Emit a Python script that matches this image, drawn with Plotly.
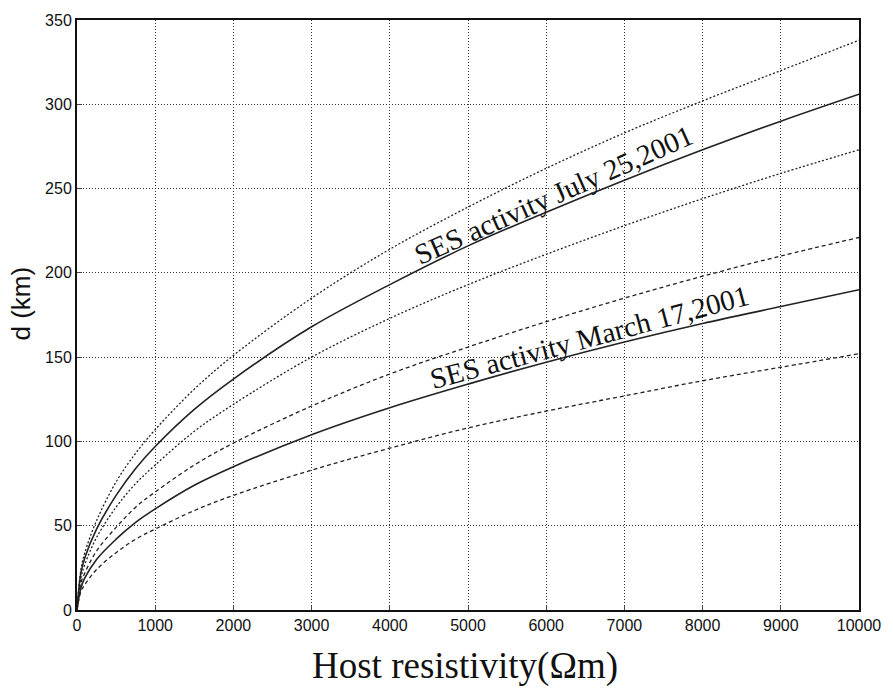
import plotly.graph_objects as go

# Host resistivity (Ohm m) sample positions
rho = [0, 50, 100, 250, 500, 750, 1000, 1500, 2000, 3000, 4000, 5000, 6000, 7000, 8000, 9000, 10000]

# July 25, 2001 SES activity: upper bound (dotted), central (solid), lower bound (dotted)
july_upper = [0, 24, 34, 53, 76, 93, 107, 131, 151, 185, 214, 239, 262, 283, 302, 320, 338]
july_mid   = [0, 22, 31, 48, 68, 84, 97, 119, 137, 168, 193, 216, 236, 255, 273, 290, 306]
july_lower = [0, 19, 27, 43, 61, 75, 86, 106, 122, 150, 173, 193, 211, 228, 244, 259, 273]

# March 17, 2001 SES activity: upper bound (dashed), central (solid), lower bound (dashed)
march_upper = [0, 16, 22, 35, 49, 61, 70, 86, 99, 121, 140, 156, 171, 185, 198, 210, 221]
march_mid   = [0, 13, 19, 30, 42, 52, 60, 74, 85, 104, 120, 134, 147, 159, 170, 180, 190]
march_lower = [0, 11, 15, 24, 34, 42, 48, 59, 68, 83, 96, 108, 118, 127, 136, 144, 152]

x_ticks = list(range(0, 10001, 1000))
x_tick_text = [str(v) for v in x_ticks]
y_ticks = list(range(0, 351, 50))

fig = go.Figure()
series = [
    (july_upper, "2px,2px", 1.3),
    (july_mid, "solid", 1.6),
    (july_lower, "2px,2px", 1.3),
    (march_upper, "4px,3px", 1.3),
    (march_mid, "solid", 1.6),
    (march_lower, "4px,3px", 1.3),
]
for ys, dash, w in series:
    fig.add_trace(go.Scatter(x=rho, y=ys, mode="lines",
                             line=dict(color="#222", width=w, dash=dash,
                                       shape="spline", smoothing=1.0),
                             showlegend=False, hoverinfo="skip"))

fig.add_annotation(x=6090, y=246, text="SES activity July 25,2001", showarrow=False,
                   textangle=-24, font=dict(family="Liberation Serif", size=29, color="#111"))
fig.add_annotation(x=6560, y=162, text="SES activity March 17,2001", showarrow=False,
                   textangle=-15, font=dict(family="Liberation Serif", size=29, color="#111"))

# axis titles placed as annotations
fig.add_annotation(xref="paper", yref="paper", x=-0.072, y=0.519, text="d (km)",
                   showarrow=False, textangle=-90, xanchor="center", yanchor="middle",
                   font=dict(family="Liberation Sans", size=26, color="#111"))
fig.add_annotation(xref="paper", yref="paper", x=0.4956, y=-0.0944,
                   text="Host resistivity(Ωm)", showarrow=False,
                   xanchor="center", yanchor="middle",
                   font=dict(family="Liberation Serif", size=37, color="#111"))

fig.update_layout(
    width=893, height=689,
    margin=dict(l=77, r=29, t=17, b=79),
    paper_bgcolor="white", plot_bgcolor="white",
    font=dict(family="Liberation Sans", color="#111"),
    xaxis=dict(range=[0, 10000], tickvals=x_ticks, ticktext=x_tick_text,
               ticks="inside", ticklen=5,
               tickfont=dict(size=16), showgrid=True, gridcolor="#333",
               griddash="1px,2px", gridwidth=1, showline=True, linecolor="#111",
               linewidth=2, mirror=True, zeroline=False),
    yaxis=dict(range=[0, 350], tickvals=y_ticks, ticks="inside", ticklen=5,
               tickfont=dict(size=16), showgrid=True, gridcolor="#333",
               griddash="1px,2px", gridwidth=1, showline=True, linecolor="#111",
               linewidth=2, mirror=True, zeroline=False),
)

fig.write_html("out.html")
